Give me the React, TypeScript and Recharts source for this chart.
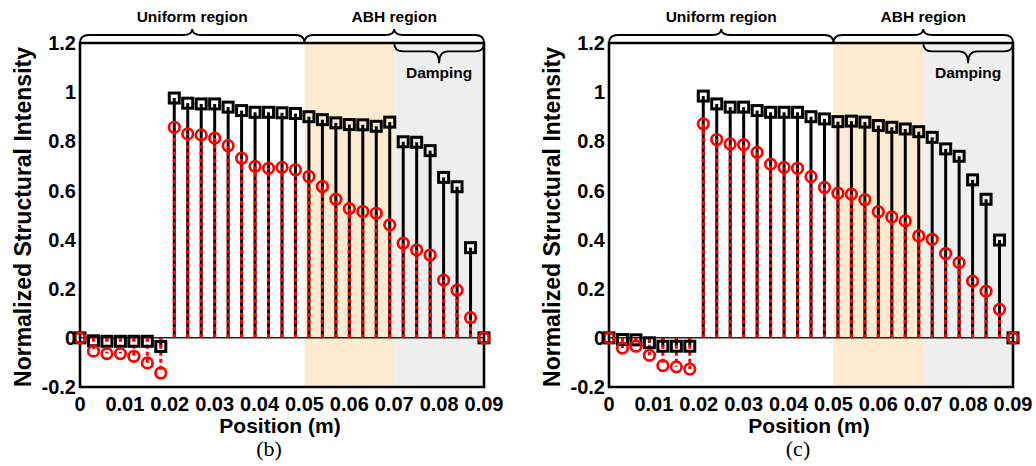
import React from 'react';
import { ScatterChart, Scatter, XAxis, YAxis, ReferenceArea, ReferenceLine } from 'recharts';

const positions = [0, 0.003, 0.006, 0.009, 0.012, 0.015, 0.018, 0.021, 0.024, 0.027, 0.03, 0.033, 0.036, 0.039, 0.042, 0.045, 0.048, 0.051, 0.054, 0.057, 0.06, 0.063, 0.066, 0.069, 0.072, 0.075, 0.078, 0.081, 0.084, 0.087, 0.09];

const blackB = [0, -0.012, -0.014, -0.014, -0.014, -0.014, -0.035, 0.976, 0.955, 0.952, 0.952, 0.939, 0.925, 0.918, 0.918, 0.916, 0.913, 0.9, 0.888, 0.875, 0.868, 0.867, 0.861, 0.878, 0.798, 0.796, 0.762, 0.653, 0.615, 0.367, 0];
const redB = [0, -0.054, -0.064, -0.064, -0.075, -0.102, -0.143, 0.857, 0.83, 0.826, 0.813, 0.782, 0.731, 0.698, 0.69, 0.694, 0.684, 0.657, 0.616, 0.564, 0.526, 0.514, 0.507, 0.46, 0.385, 0.358, 0.337, 0.235, 0.194, 0.082, 0];

const blackC = [0, -0.007, -0.008, -0.02, -0.034, -0.034, -0.034, 0.984, 0.952, 0.939, 0.939, 0.925, 0.918, 0.918, 0.918, 0.9, 0.891, 0.88, 0.882, 0.878, 0.864, 0.857, 0.85, 0.839, 0.816, 0.769, 0.739, 0.643, 0.564, 0.398, 0];
const redC = [0, -0.041, -0.034, -0.071, -0.113, -0.118, -0.127, 0.871, 0.807, 0.789, 0.786, 0.755, 0.707, 0.694, 0.69, 0.656, 0.612, 0.589, 0.585, 0.562, 0.513, 0.492, 0.476, 0.415, 0.401, 0.343, 0.306, 0.231, 0.19, 0.116, 0];

const xTicks = [0, 0.01, 0.02, 0.03, 0.04, 0.05, 0.06, 0.07, 0.08, 0.09];
const yTicks = [-0.2, 0, 0.2, 0.4, 0.6, 0.8, 1, 1.2];

// region boundaries (m)
const uniformRange = [0, 0.05];
const abhRange = [0.05, 0.09];
const orangeRange = [0.05, 0.07];
const dampingRange = [0.07, 0.09];

const FONT = '"Liberation Sans", Arial, sans-serif';

const SquareMark = (props: any) => {
  const { cx, cy } = props;
  return <rect x={cx - 5} y={cy - 5} width={10} height={10} fill="none" stroke="#000" strokeWidth={3} />;
};

const CircleMark = (props: any) => {
  const { cx, cy } = props;
  return <circle cx={cx} cy={cy} r={5.3} fill="none" stroke="#ff0000" strokeWidth={2.7} />;
};

const Brace = (props: any) => {
  const { x, y, width, height, label, down } = props;
  const xl = x, xr = x + width, xm = x + width / 2;
  const r = 9;
  let d: string;
  let ty: number;
  if (!down) {
    const yb = y + height;
    const yf = yb - height * 0.57;
    const yt = y;
    d = `M${xl},${yb} Q${xl},${yf} ${xl + r},${yf} L${xm - r},${yf} Q${xm},${yf} ${xm},${yt} Q${xm},${yf} ${xm + r},${yf} L${xr - r},${yf} Q${xr},${yf} ${xr},${yb}`;
    ty = yt - 7;
  } else {
    const yb = y;
    const yf = yb + height * 0.42;
    const yt = y + height;
    d = `M${xl},${yb} Q${xl},${yf} ${xl + r},${yf} L${xm - r},${yf} Q${xm},${yf} ${xm},${yt} Q${xm},${yf} ${xm + r},${yf} L${xr - r},${yf} Q${xr},${yf} ${xr},${yb}`;
    ty = yt + 15;
  }
  return (
    <g>
      <path d={d} fill="none" stroke="#000" strokeWidth={1.8} />
      <text x={xm} y={ty} textAnchor="middle" fontFamily={FONT} fontWeight="bold" fontSize={15.5} fill="#000">
        {label}
      </text>
    </g>
  );
};

const fmtX = (v: number) => (v === 0 ? '0' : v.toFixed(2));
const fmtY = (v: number) => (v === 0 ? '0' : v === 1 ? '1' : String(Math.round(v * 10) / 10));

interface PanelProps {
  black: number[];
  red: number[];
  caption: string;
  left: number;
}

const Panel: React.FC<PanelProps> = ({ black, red, caption, left }) => {
  const blackPts = positions.map((x, i) => ({ x, y: black[i] }));
  const redPts = positions.map((x, i) => ({ x, y: red[i] }));
  const tickStyle = { fill: '#000', fontSize: 20, fontWeight: 'bold' as const, fontFamily: FONT };

  return (
    <div style={{ position: 'absolute', left, top: 0, width: 507, height: 466 }}>
      <ScatterChart width={507} height={466} margin={{ top: 43, right: 23, left: 30, bottom: 49 }}>
        <XAxis
          type="number"
          dataKey="x"
          domain={[0, 0.09]}
          ticks={xTicks}
          tickFormatter={fmtX}
          axisLine={false}
          tickLine={false}
          tickSize={0}
          tickMargin={10}
          height={30}
          tick={tickStyle}
          interval={0}
        />
        <YAxis
          type="number"
          dataKey="y"
          domain={[-0.2, 1.2]}
          ticks={yTicks}
          tickFormatter={fmtY}
          axisLine={false}
          tickLine={false}
          tickSize={0}
          tickMargin={4}
          width={50}
          tick={tickStyle}
          interval={0}
        />
        <ReferenceArea x1={orangeRange[0]} x2={orangeRange[1]} y1={-0.2} y2={1.2} fill="#fcebd0" fillOpacity={1} stroke="none" />
        <ReferenceArea x1={dampingRange[0]} x2={dampingRange[1]} y1={-0.2} y2={1.2} fill="#efefef" fillOpacity={1} stroke="none" />
        <ReferenceLine y={0} stroke="#222" strokeWidth={1.5} />
        {positions.map((x, i) => (
          <ReferenceLine
            key={`b${i}`}
            segment={[{ x, y: 0 }, { x, y: black[i] }]}
            stroke="#000"
            strokeWidth={3}
            ifOverflow="visible"
          />
        ))}
        {positions.map((x, i) => (
          <ReferenceLine
            key={`r${i}`}
            segment={[{ x, y: 0 }, { x, y: red[i] }]}
            stroke="#ff0000"
            strokeWidth={3}
            strokeDasharray="4 3"
            ifOverflow="visible"
          />
        ))}
        <ReferenceArea x1={0} x2={0.09} y1={-0.2} y2={1.2} fill="none" stroke="#000" strokeWidth={2.6} ifOverflow="visible" />
        <Scatter data={blackPts} shape={SquareMark} isAnimationActive={false} />
        <Scatter data={redPts} shape={CircleMark} isAnimationActive={false} />
        <ReferenceArea
          x1={uniformRange[0]} x2={uniformRange[1]} y1={1.2} y2={1.257}
          ifOverflow="visible"
          shape={(p: any) => <Brace {...p} label="Uniform region" />}
        />
        <ReferenceArea
          x1={abhRange[0]} x2={abhRange[1]} y1={1.2} y2={1.257}
          ifOverflow="visible"
          shape={(p: any) => <Brace {...p} label="ABH region" />}
        />
        <ReferenceArea
          x1={dampingRange[0]} x2={dampingRange[1]} y1={1.118} y2={1.2}
          ifOverflow="visible"
          shape={(p: any) => <Brace {...p} label="Damping" down />}
        />
      </ScatterChart>
      <div
        style={{
          position: 'absolute', left: 23, top: 217, transform: 'translate(-50%, -50%) rotate(-90deg)',
          whiteSpace: 'nowrap', fontFamily: FONT, fontWeight: 'bold', fontSize: 23, color: '#000', lineHeight: 1,
        }}
      >
        Normalized Structural Intensity
      </div>
      <div
        style={{
          position: 'absolute', left: 280, top: 425, transform: 'translate(-50%, -50%)',
          whiteSpace: 'nowrap', fontFamily: FONT, fontWeight: 'bold', fontSize: 21, color: '#000', lineHeight: 1,
        }}
      >
        Position (m)
      </div>
      <div
        style={{
          position: 'absolute', left: 269, top: 449, transform: 'translate(-50%, -50%)',
          whiteSpace: 'nowrap', fontFamily: '"Liberation Serif", "Times New Roman", serif', fontSize: 22, color: '#000', lineHeight: 1,
        }}
      >
        {caption}
      </div>
    </div>
  );
};

export default function App() {
  return (
    <div style={{ position: 'absolute', left: 0, top: 0, width: 1036, height: 466, background: '#fff' }}>
      <Panel black={blackB} red={redB} caption="(b)" left={0} />
      <Panel black={blackC} red={redC} caption="(c)" left={529} />
    </div>
  );
}
